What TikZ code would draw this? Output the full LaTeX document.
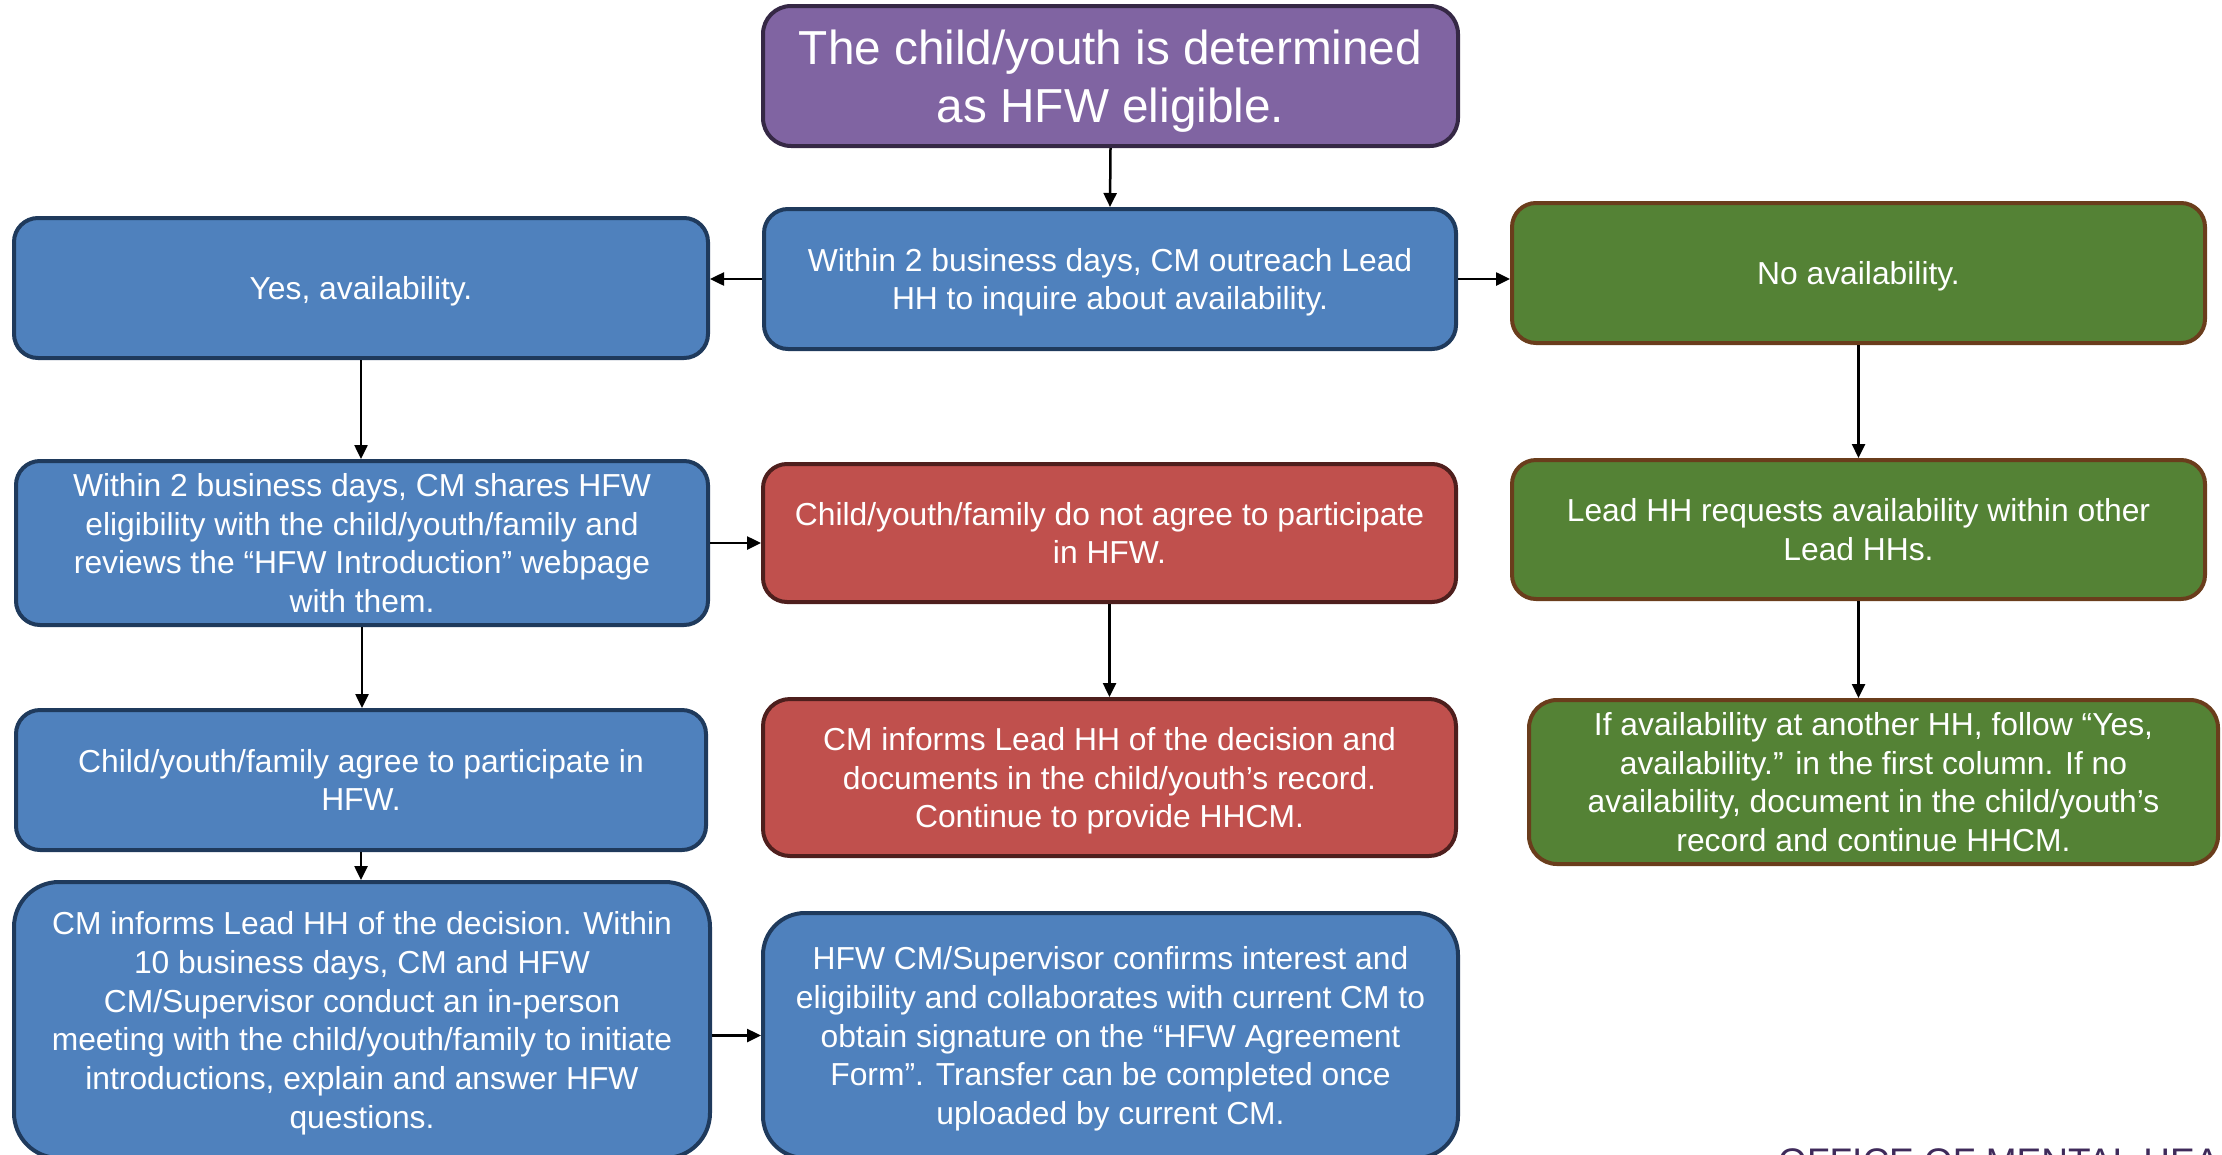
\documentclass[tikz,border=0pt]{standalone}
\usepackage{fontspec}
\setmainfont{Liberation Sans}
\usetikzlibrary{arrows.meta}

\definecolor{bluefill}{HTML}{4F81BD}
\definecolor{blueline}{HTML}{1F3A5C}
\definecolor{redfill}{HTML}{C0504D}
\definecolor{redline}{HTML}{4E1F1D}
\definecolor{greenfill}{HTML}{548235}
\definecolor{greenline}{HTML}{6A3D1C}
\definecolor{purplefill}{HTML}{8064A2}
\definecolor{purpleline}{HTML}{352845}
\definecolor{officetext}{HTML}{3F2A5A}

\begin{document}
\begin{tikzpicture}[x=1pt,y=-1pt,
  box/.style={draw, line width=4pt, rounded corners=24pt, text=white,
    align=center, inner sep=0pt, text depth=-1.5pt,
    font=\fontsize{31.8}{38.7}\selectfont},
  bluebox/.style={box, fill=bluefill, draw=blueline},
  redbox/.style={box, fill=redfill, draw=redline},
  greenbox/.style={box, fill=greenfill, draw=greenline},
  titlebox/.style={box, fill=purplefill, draw=purpleline, text depth=-10pt,
    font=\fontsize{47.7}{58}\selectfont},
  flow/.style={line width=2.5pt, draw=black, -{Triangle[length=14pt,width=13pt]}}
]
\path[use as bounding box] (0,0) rectangle (2222,1154);
\clip (0,0) rectangle (2222,1154);

% start of the process
\node[titlebox, minimum width=695pt, minimum height=140pt, rounded corners=28pt]
  (elig) at (1110.5,76) {The child/youth is determined\\as HFW eligible.};

% first outreach and its two outcomes
\node[bluebox, minimum width=692pt, minimum height=140pt]
  (outreach) at (1110,279) {Within 2 business days, CM outreach Lead\\HH to inquire about availability.};
\node[bluebox, minimum width=694pt, minimum height=140pt]
  (yes) at (361,288) {Yes, availability.};
\node[greenbox, minimum width=693pt, minimum height=140pt]
  (nobox) at (1858.5,273) {No availability.};

% left column: family is offered HFW
\node[bluebox, minimum width=692pt, minimum height=164pt]
  (share) at (362,543) {Within 2 business days, CM shares HFW\\eligibility with the child/youth/family and\\reviews the “HFW Introduction” webpage\\with them.};
\node[bluebox, minimum width=690pt, minimum height=140pt]
  (agree) at (361,780) {Child/youth/family agree to participate in\\HFW.};
\node[bluebox, minimum width=696pt, minimum height=276pt, rounded corners=45pt]
  (meet) at (362,1020) {CM informs Lead HH of the decision. Within\\10 business days, CM and HFW\\CM/Supervisor conduct an in-person\\meeting with the child/youth/family to initiate\\introductions, explain and answer HFW\\questions.};

% middle column: family declines, then the agreement step
\node[redbox, minimum width=693pt, minimum height=138pt]
  (decline) at (1109.5,533) {Child/youth/family do not agree to participate\\in HFW.};
\node[redbox, minimum width=693pt, minimum height=157pt, rounded corners=27pt]
  (inform) at (1109.5,777.5) {CM informs Lead HH of the decision and\\documents in the child/youth’s record.\\Continue to provide HHCM.};
\node[bluebox, minimum width=695pt, minimum height=245pt, rounded corners=42pt]
  (confirm) at (1110.5,1035.5) {HFW CM/Supervisor confirms interest and\\eligibility and collaborates with current CM to\\obtain signature on the “HFW Agreement\\Form”. Transfer can be completed once\\uploaded by current CM.};

% right column: no availability
\node[greenbox, minimum width=693pt, minimum height=139pt]
  (request) at (1858.5,529.5) {Lead HH requests availability within other\\Lead HHs.};
\node[greenbox, minimum width=689pt, minimum height=164pt, rounded corners=28pt]
  (other) at (1873.5,782) {If availability at another HH, follow “Yes,\\availability.” in the first column. If no\\availability, document in the child/youth’s\\record and continue HHCM.};

% footer
\node[anchor=base west, inner sep=0pt, text=officetext,
  font=\fontsize{37}{40}\selectfont] (office) at (1778,1174.5) {OFFICE OF MENTAL HEALTH};

% connectors
\draw[flow] (elig.south) -- (outreach.north);
\draw[flow] (outreach.west) -- (outreach.west -| yes.east);
\draw[flow] (outreach.east) -- (outreach.east -| nobox.west);
\draw[flow] (yes.south) -- (yes.south |- share.north);
\draw[flow] (share.east) -- (share.east -| decline.west);
\draw[flow] (share.south) -- (share.south |- agree.north);
\draw[flow] (agree.south) -- (agree.south |- meet.north);
\draw[flow] (meet.east |- confirm.west) -- (confirm.west);
\draw[flow] (decline.south) -- (decline.south |- inform.north);
\draw[flow] (nobox.south) -- (nobox.south |- request.north);
\draw[flow] (request.south) -- (request.south |- other.north);
\end{tikzpicture}
\end{document}
